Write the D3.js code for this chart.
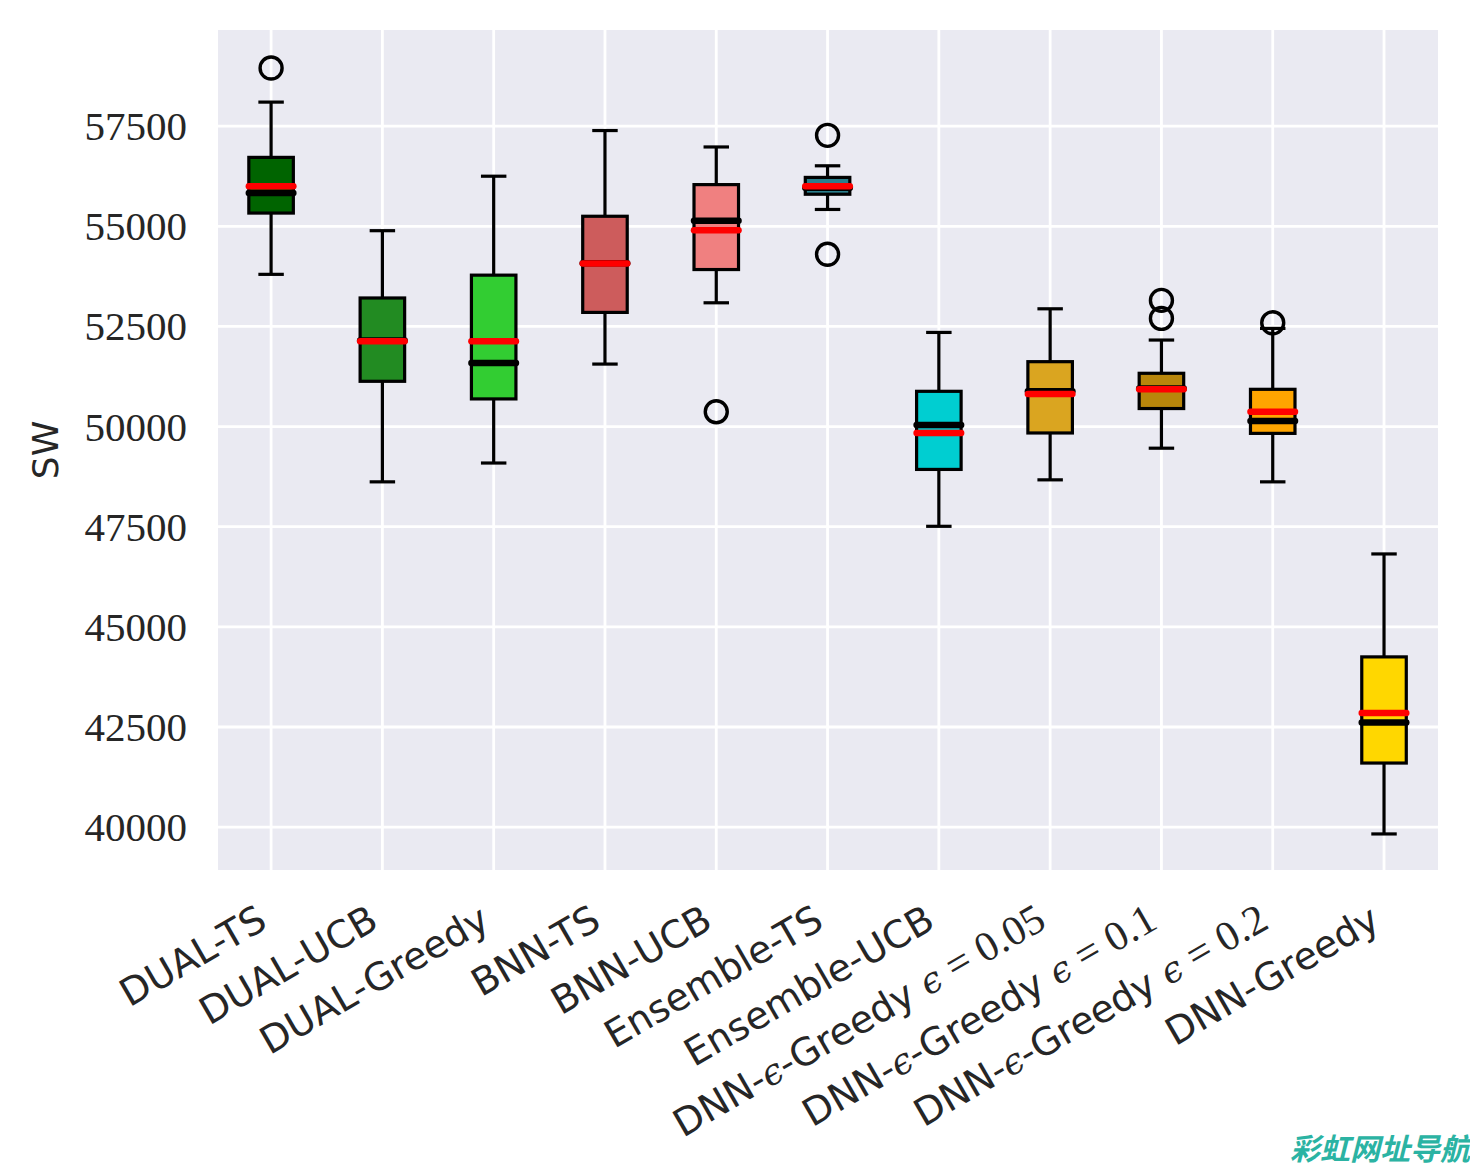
<!DOCTYPE html>
<html>
<head>
<meta charset="utf-8">
<script src="https://cdn.jsdelivr.net/npm/d3@7"></script>
<style>
  html, body { margin: 0; padding: 0; background: #ffffff; }
  svg { display: block; }
</style>
</head>
<body>
<svg id="chart" width="1470" height="1170"></svg>
<script>
// ---------- data ----------
const categories = [
  "DUAL-TS", "DUAL-UCB", "DUAL-Greedy", "BNN-TS", "BNN-UCB", "Ensemble-TS",
  "Ensemble-UCB", "DNN-ϵ-Greedy ϵ = 0.05", "DNN-ϵ-Greedy ϵ = 0.1",
  "DNN-ϵ-Greedy ϵ = 0.2", "DNN-Greedy"
];
const whiskerLow  = [53800, 48620, 49090, 51560, 53090, 55420, 47510, 48670, 49460, 48620, 39830];
const quartile1   = [55330, 51130, 50690, 52850, 53920, 55800, 48930, 49840, 50450, 49830, 41600];
const medians     = [55830, 52150, 51590, 54080, 55140, 55960, 50040, 50880, 50950, 50140, 42610];
const quartile3   = [56720, 53210, 53780, 55250, 56040, 56220, 50880, 51620, 51330, 50930, 44250];
const whiskerHigh = [58100, 54890, 56250, 57390, 56980, 56510, 52350, 52940, 52160, 52450, 46820];
const means       = [56000, 52130, 52130, 54070, 54900, 56000, 49840, 50810, 50930, 50370, 42850];
const outliers    = [[58950], [], [], [], [50370], [57270, 54300], [], [], [53150, 52700], [52590], []];
const boxColors   = ["#006400", "#228B22", "#32CD32", "#CD5C5C", "#F08080", "#2a7f8c",
                     "#00CED1", "#DAA520", "#B8860B", "#FFA500", "#FFD700"];
const yTicks      = [40000, 42500, 45000, 47500, 50000, 52500, 55000, 57500];
const yLabel      = "SW";
const watermark   = "彩虹网址导航";

// ---------- layout ----------
const svg = d3.select("#chart");
const plot = { left: 218, right: 1438, top: 30, bottom: 870 };

const x = d3.scaleLinear().domain([0.523, 11.485]).range([plot.left, plot.right]);
const y = d3.scaleLinear().domain([38930, 59900]).range([plot.bottom, plot.top]);

const boxW = x(1.4) - x(1);   // box width 0.4 units
const capW = x(1.2) - x(1);   // cap width 0.2 units

// background
svg.append("rect")
  .attr("x", plot.left).attr("y", plot.top)
  .attr("width", plot.right - plot.left).attr("height", plot.bottom - plot.top)
  .attr("fill", "#EAEAF2");

// grid
const grid = svg.append("g");
grid.selectAll("line.h").data(yTicks).enter().append("line")
  .attr("x1", plot.left).attr("x2", plot.right)
  .attr("y1", d => y(d)).attr("y2", d => y(d))
  .attr("stroke", "#ffffff").attr("stroke-width", 2.8);
grid.selectAll("line.v").data(categories).enter().append("line")
  .attr("x1", (d, i) => x(i + 1)).attr("x2", (d, i) => x(i + 1))
  .attr("y1", plot.top).attr("y2", plot.bottom)
  .attr("stroke", "#ffffff").attr("stroke-width", 2.8);

// y axis tick labels
const yAxis = d3.axisLeft(y).tickValues(yTicks).tickSize(0).tickPadding(31)
  .tickFormat(d3.format("d"));
const yg = svg.append("g").attr("transform", `translate(${plot.left},0)`).call(yAxis);
yg.select(".domain").remove();
yg.selectAll("text")
  .attr("font-family", "'Liberation Serif', 'DejaVu Serif', serif")
  .attr("font-size", 41).attr("fill", "#262626").attr("dy", "0.33em");

// y label
svg.append("text")
  .attr("transform", `translate(58,${(plot.top + plot.bottom) / 2}) rotate(-90)`)
  .attr("text-anchor", "middle")
  .attr("font-family", "'DejaVu Sans', sans-serif").attr("font-size", 36)
  .attr("fill", "#262626").text(yLabel);

// x labels
const xl = svg.append("g");
categories.forEach((c, i) => {
  const t = xl.append("text")
    .attr("transform", `translate(${x(i + 1) - 2},927) rotate(-30)`)
    .attr("text-anchor", "end")
    .attr("font-family", "'DejaVu Sans', sans-serif").attr("font-size", 38)
    .attr("fill", "#262626");
  const parts = c.split(/(ϵ = [\d.]+|ϵ)/).filter(p => p.length);
  parts.forEach(p => {
    if (p === "ϵ") {
      t.append("tspan").attr("font-family", "'DejaVu Serif', serif").attr("font-style", "italic").attr("font-size", 36).text("ϵ");
    } else if (p.startsWith("ϵ =")) {
      t.append("tspan").attr("font-family", "'DejaVu Serif', serif").attr("font-style", "italic").attr("font-size", 36).text("ϵ");
      t.append("tspan").attr("font-family", "'Liberation Serif', serif").attr("font-size", 42).text(p.slice(1).replace("=", " = "));
    } else {
      t.append("tspan").text(p);
    }
  });
});

// boxes
const boxes = svg.append("g").selectAll("g").data(categories).enter().append("g");
boxes.each(function (d, i) {
  const g = d3.select(this);
  const cx = x(i + 1);
  // whiskers
  g.append("line").attr("x1", cx).attr("x2", cx)
    .attr("y1", y(whiskerLow[i])).attr("y2", y(quartile1[i]))
    .attr("stroke", "#000").attr("stroke-width", 3.2);
  g.append("line").attr("x1", cx).attr("x2", cx)
    .attr("y1", y(whiskerHigh[i])).attr("y2", y(quartile3[i]))
    .attr("stroke", "#000").attr("stroke-width", 3.2);
  // caps
  [whiskerLow[i], whiskerHigh[i]].forEach(v => {
    g.append("line").attr("x1", cx - capW / 2).attr("x2", cx + capW / 2)
      .attr("y1", y(v)).attr("y2", y(v))
      .attr("stroke", "#000").attr("stroke-width", 3.2).attr("stroke-linecap", "square");
  });
  // box
  g.append("rect")
    .attr("x", cx - boxW / 2).attr("width", boxW)
    .attr("y", y(quartile3[i])).attr("height", y(quartile1[i]) - y(quartile3[i]))
    .attr("fill", boxColors[i]).attr("stroke", "#000").attr("stroke-width", 3.2);
  // median
  g.append("line").attr("x1", cx - boxW / 2).attr("x2", cx + boxW / 2)
    .attr("y1", y(medians[i])).attr("y2", y(medians[i]))
    .attr("stroke", "#000").attr("stroke-width", 6.5).attr("stroke-linecap", "round");
  // mean
  g.append("line").attr("x1", cx - boxW / 2).attr("x2", cx + boxW / 2)
    .attr("y1", y(means[i])).attr("y2", y(means[i]))
    .attr("stroke", "#ff0000").attr("stroke-width", 6.5).attr("stroke-linecap", "round");
  // outliers
  outliers[i].forEach(v => {
    g.append("circle").attr("cx", cx).attr("cy", y(v)).attr("r", 11)
      .attr("fill", "none").attr("stroke", "#000").attr("stroke-width", 3.4);
  });
});

// watermark
svg.append("text")
  .attr("x", 1470).attr("y", 1160).attr("text-anchor", "end")
  .attr("font-family", "'Noto Sans CJK SC', sans-serif").attr("font-weight", "bold")
  .attr("font-style", "italic").attr("font-size", 30).attr("fill", "#2bb3a3")
  .text(watermark);
</script>
</body>
</html>
